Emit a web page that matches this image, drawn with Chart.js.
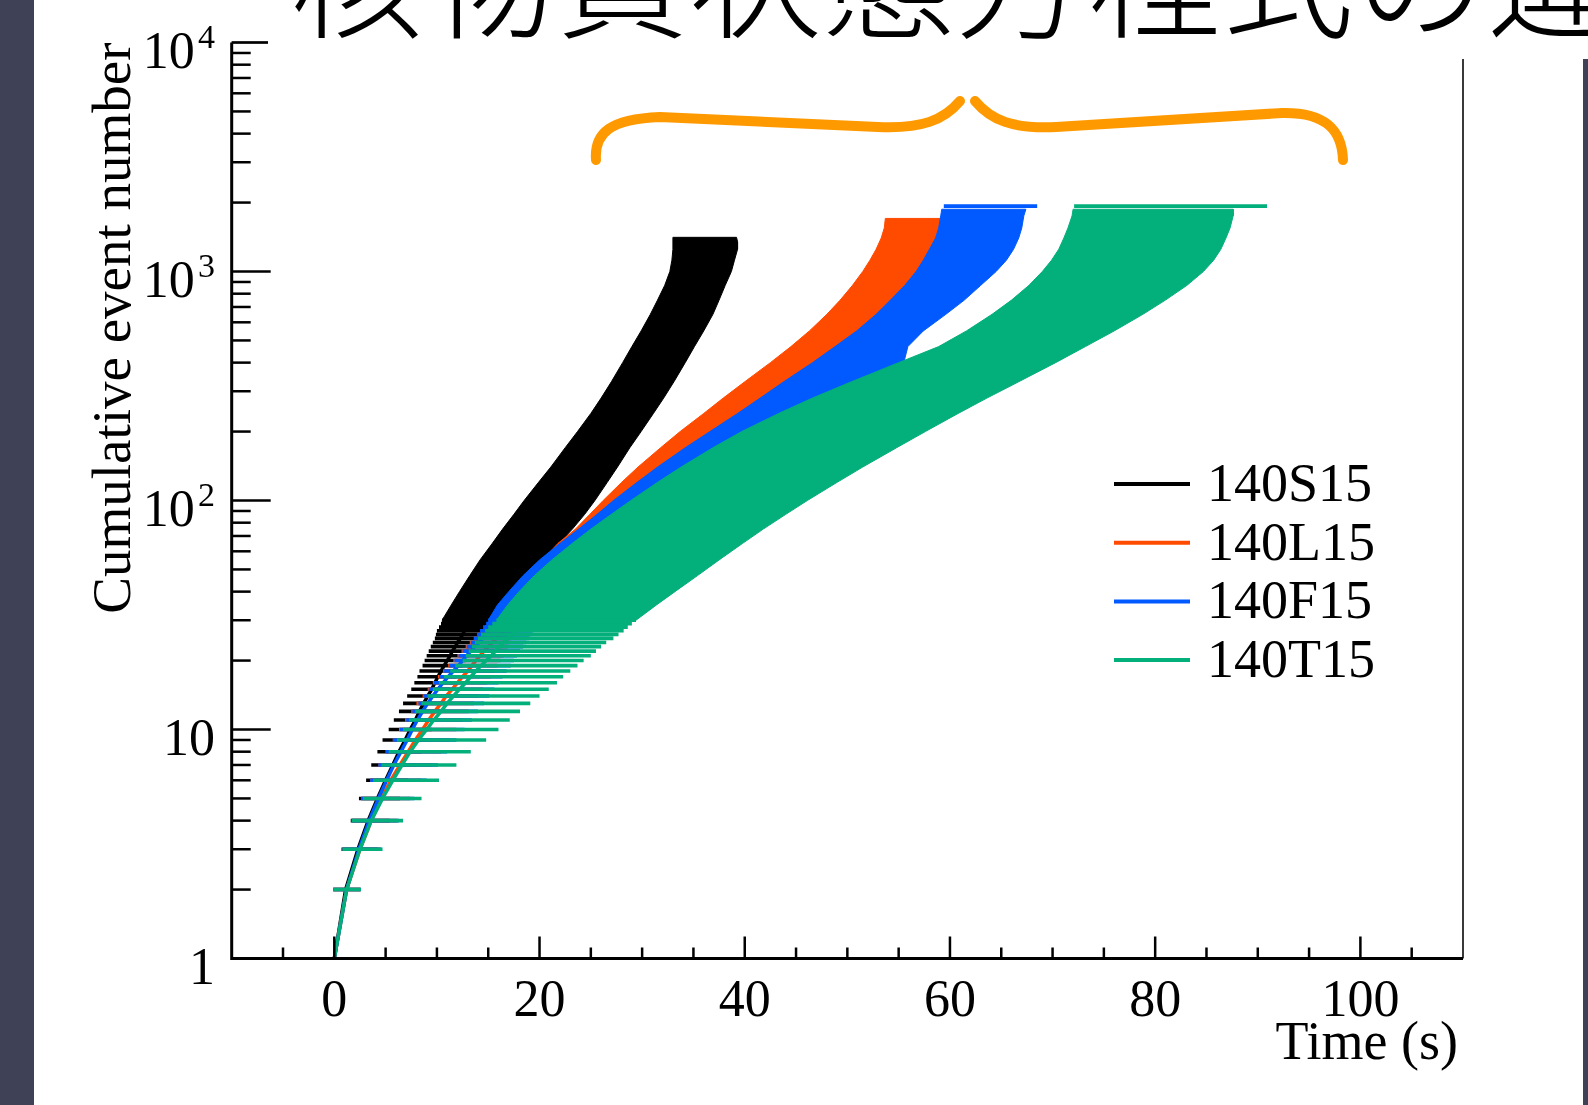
<!DOCTYPE html>
<html><head><meta charset="utf-8">
<script src="https://cdn.jsdelivr.net/npm/chart.js@4.4.1/dist/chart.umd.min.js"></script>
<style>
html,body{margin:0;padding:0;background:#fff;overflow:hidden;}
#wrap{position:relative;width:1588px;height:1105px;background:#fff;}
#c{position:absolute;left:0;top:0;}
svg{position:absolute;left:0;top:0;}
</style></head><body>
<div id="wrap">
<canvas id="c" width="1588" height="1105"></canvas>
<svg id="ov" width="1588" height="1105" xmlns="http://www.w3.org/2000/svg">
  <rect x="0" y="0" width="34" height="1105" fill="#3f4157"/>
  <rect x="1583" y="59" width="5" height="1046" fill="#3f4157"/>
  <rect x="268" y="0" width="1320" height="59" fill="#ffffff"/>
  <text x="290" y="28" font-size="133" font-weight="300" font-family="'Noto Sans CJK JP'" fill="#000">核物質状態方程式の違い</text>
  <path d="M 596 160 C 594 133, 610 119, 660 117 L 878 127 C 922 129, 944 120, 960 101" fill="none" stroke="#ff9900" stroke-width="10" stroke-linecap="round"/>
  <path d="M 975 101 C 991 120, 1012 129, 1056 127 L 1282 113 C 1328 112, 1342 132, 1343 160" fill="none" stroke="#ff9900" stroke-width="10" stroke-linecap="round"/>
  <g id="legend"></g>
</svg>
</div>
<script>
// ---------- axis ticks / labels ----------
const xLabelValues = [0, 20, 40, 60, 80, 100];
const xTickValues = [-5, 0, 5, 10, 15, 20, 25, 30, 35, 40, 45, 50, 55, 60, 65, 70, 75, 80, 85, 90, 95, 100, 105];
const yLabelValues = [1, 10, 100, 1000, 10000];
const yTickValues = [1,2,3,4,5,6,7,8,9,10,20,30,40,50,60,70,80,90,100,200,300,400,500,600,700,800,900,1000,2000,3000,4000,5000,6000,7000,8000,9000,10000];
const xTitle = 'Time (s)';
const yTitle = 'Cumulative event number';

// ---------- series ----------
const seriesNames = ['140S15', '140L15', '140F15', '140T15'];
const seriesColors = ['#000000', '#ff4b00', '#005aff', '#03af7a'];

// individual cumulative-event rows (n) with time ranges [lo, hi]
const eventN = [2,3,4,5,6,7,8,9,10,11,12,13,14,15,16,17,18,19,20,21,22,23,24,25,26,27,28,29,30];
const S15_lo = [-0.1,0.7,1.6,2.4,3.1,3.6,4.2,4.7,5.3,5.8,6.3,6.7,7.1,7.5,7.8,8.1,8.3,8.6,8.8,9.0,9.2,9.4,9.6,9.8,9.9,10.0,10.2,10.4,10.5];
const S15_hi = [2.5,4.2,5.4,6.4,7.2,7.9,8.5,9.0,9.5,9.9,10.3,10.7,11.0,11.3,11.6,11.9,12.2,12.5,12.8,13.1,13.4,13.7,14.0,14.3,14.6,14.9,15.2,15.5,15.8];
const L15_lo = [-0.1,0.8,1.7,2.6,3.5,4.3,5.0,5.7,6.3,6.9,7.5,8.0,8.6,9.1,9.6,10.1,10.6,11.1,11.6,12.0,12.4,12.8,13.2,13.6,14.0,14.3,14.7,15.0,15.3];
const L15_hi = [2.6,4.5,6.1,7.4,8.5,9.5,10.4,11.2,11.9,12.5,13.1,13.6,14.1,14.5,14.9,15.3,15.6,15.9,16.2,16.5,16.7,16.9,17.1,17.3,17.5,17.6,17.7,17.9,18.0];
const F15_lo = [-0.1,0.8,1.7,2.6,3.5,4.3,5.0,5.7,6.4,7.0,7.6,8.2,8.7,9.2,9.7,10.2,10.7,11.2,11.7,12.1,12.5,12.9,13.3,13.6,13.9,14.2,14.5,14.8,15.0];
const F15_hi = [2.6,4.6,6.3,7.8,9.0,10.1,11.0,11.9,12.7,13.4,14.0,14.6,15.1,15.6,16.0,16.4,16.8,17.2,17.5,17.8,18.1,18.4,18.7,19.0,19.2,19.4,19.6,19.8,20.0];
const T15_lo = [-0.1,0.8,1.7,2.8,3.8,4.6,5.3,6.1,6.7,7.3,7.9,8.5,9.1,9.6,10.2,10.7,11.3,11.8,12.5,12.8,13.1,13.4,13.7,14.0,14.3,14.7,15.0,15.4,15.8];
const T15_hi = [2.6,4.7,6.7,8.5,10.2,11.9,13.3,14.8,16.0,17.1,18.1,19.1,20.0,20.9,21.7,22.3,23.0,23.7,24.3,25.0,25.5,26.0,26.5,27.2,27.7,28.2,28.6,29.0,29.4];

// central curves (n = 1..30)
const centerN = [1,2,3,4,5,6,7,8,9,10,11,12,13,14,15,16,17,18,19,20,21,22,23,24,25,26,27,28,29,30];
const S15_mid = [0.0,1.1,2.3,3.3,4.2,5.0,5.7,6.3,6.9,7.4,7.9,8.3,8.7,9.1,9.5,9.8,10.1,10.4,10.7,11.0,11.3,11.5,11.8,12.0,12.3,12.5,12.7,12.9,13.1,13.3];
const L15_mid = [0.0,1.2,2.5,3.6,4.6,5.5,6.4,7.2,7.9,8.6,9.2,9.8,10.4,10.9,11.5,12.0,12.5,13.0,13.4,13.8,14.2,14.6,15.0,15.4,15.8,16.2,16.5,16.8,17.1,17.4];
const F15_mid = [0.0,1.2,2.4,3.4,4.3,5.1,5.8,6.5,7.1,7.6,8.1,8.6,9.1,9.6,10.1,10.6,11.1,11.6,12.1,12.5,12.9,13.3,13.7,14.1,14.5,14.8,15.1,15.4,15.7,16.0];
const T15_mid = [0.0,1.2,2.5,3.6,4.7,5.7,6.6,7.4,8.2,9.0,9.7,10.4,11.0,11.6,12.2,12.8,13.3,13.8,14.3,14.8,15.3,15.7,16.1,16.5,16.9,17.3,17.7,18.0,18.4,18.7];

// merged bands (dense rows) : n, earliest time, latest time
const S15_bandN  = [30,35,40,47,55,65,75,87,100,120,140,170,200,240,280,330,400,470,550,650,750,870,1000,1120,1250,1350,1410];
const S15_bandLo = [10.5,11.4,12.2,13.2,14.2,15.4,16.4,17.5,18.5,19.9,21.1,22.5,23.7,25.0,26.0,27.0,28.1,29.0,29.9,30.8,31.5,32.2,32.7,32.9,33.0,33.0,33.0];
const S15_bandHi = [15.8,16.9,17.8,19.0,20.4,21.9,23.2,24.4,25.4,26.6,27.6,28.8,29.9,31.1,32.1,33.1,34.2,35.1,36.0,36.9,37.5,38.1,38.7,39.0,39.3,39.3,39.2];
const L15_bandN  = [30,35,40,47,55,65,75,87,100,120,140,170,200,240,280,330,400,470,550,650,750,870,1000,1120,1250,1400,1550,1705];
const L15_bandLo = [15.3,16.5,17.6,19.0,20.3,21.8,23.5,24.9,26.2,28.0,29.6,31.8,33.7,36.0,37.9,40.0,42.5,44.5,46.3,48.0,49.3,50.5,51.5,52.2,52.8,53.3,53.6,53.7];
const L15_bandHi = [18.0,19.0,20.0,21.5,23.0,25.0,26.8,28.5,30.0,32.3,34.3,37.0,39.3,42.2,44.5,47.0,50.0,52.0,53.8,55.5,56.8,57.8,58.5,59.0,59.3,59.5,59.7,59.8];
const F15_bandN  = [30,35,40,47,55,65,75,87,100,120,140,170,200,240,280,330,400,470,550,650,750,870,1000,1120,1250,1400,1550,1750,1870];
const F15_bandLo = [15.0,15.9,17.0,18.4,20.0,22.0,23.8,25.6,27.2,29.5,31.5,34.2,36.6,39.3,41.5,43.8,46.6,48.8,50.9,52.8,54.2,55.6,56.7,57.4,58.0,58.6,58.9,59.1,59.2];
const F15_bandHi = [20.0,21.2,22.3,24.0,25.8,27.8,29.5,31.2,32.8,35.0,37.0,39.8,42.5,46.0,49.3,52.8,55.5,55.9,57.4,59.6,61.4,63.0,64.5,65.5,66.2,66.7,67.0,67.2,67.4];
const T15_bandN  = [30,35,40,47,55,65,75,87,100,120,140,170,200,240,280,330,400,470,550,650,750,870,1000,1120,1250,1400,1550,1750,1870];
const T15_bandLo = [15.8,16.9,18.0,19.5,21.2,23.2,25.0,27.0,28.9,31.5,33.8,36.9,39.7,43.3,46.6,50.4,55.0,58.9,61.6,64.1,66.0,67.7,69.0,69.9,70.6,71.1,71.5,71.9,72.0];
const T15_bandHi = [29.4,31.4,33.2,35.4,37.5,39.8,41.8,44.0,46.1,49.0,51.5,54.8,57.6,60.8,63.6,66.7,70.3,73.2,76.0,78.8,81.0,83.1,84.7,85.7,86.4,86.9,87.3,87.6,87.6];

// last (top) rows: [n, lo, hi]
const F15_topBar = [1930, 59.4, 68.5];
const T15_topBar = [1930, 72.1, 90.9];

// ---------- build datasets ----------
const seriesDefs = [
  {lo:S15_lo, hi:S15_hi, mid:S15_mid, bN:S15_bandN, bLo:S15_bandLo, bHi:S15_bandHi, top:null, order:40},
  {lo:L15_lo, hi:L15_hi, mid:L15_mid, bN:L15_bandN, bLo:L15_bandLo, bHi:L15_bandHi, top:null, order:30},
  {lo:F15_lo, hi:F15_hi, mid:F15_mid, bN:F15_bandN, bLo:F15_bandLo, bHi:F15_bandHi, top:F15_topBar, order:20},
  {lo:T15_lo, hi:T15_hi, mid:T15_mid, bN:T15_bandN, bLo:T15_bandLo, bHi:T15_bandHi, top:T15_topBar, order:10}
];

const datasets = [];
seriesDefs.forEach((s, k) => {
  const color = seriesColors[k];
  const rows = [];
  eventN.forEach((n, i) => { rows.push({x: s.lo[i], y: n}, {x: s.hi[i], y: n}, {x: s.hi[i], y: null}); });
  if (s.top) rows.push({x: s.top[1], y: s.top[0]}, {x: s.top[2], y: s.top[0]}, {x: s.top[2], y: null});
  const poly = s.bN.map((n, i) => ({x: s.bLo[i], y: n}))
    .concat(s.bN.map((n, i) => ({x: s.bHi[i], y: n})).reverse());
  datasets.push({
    label: seriesNames[k] + ' band', data: poly, fill: 'shape',
    backgroundColor: color, borderColor: color, borderWidth: 1,
    pointRadius: 0, tension: 0, order: s.order + 2
  });
  datasets.push({
    label: seriesNames[k] + ' rows', data: rows, fill: false, spanGaps: false,
    borderColor: color, borderWidth: 3.6, borderCapStyle: 'butt',
    pointRadius: 0, tension: 0, order: s.order + 1
  });
  datasets.push({
    label: seriesNames[k], data: centerN.map((n, i) => ({x: s.mid[i], y: n})), fill: false,
    borderColor: color, backgroundColor: color, borderWidth: 3.5,
    pointRadius: 0, tension: 0, order: s.order, clip: 4, isLegend: true
  });
});

// ---------- ROOT-style frame, inward ticks and labels ----------
const rootAxes = {
  id: 'rootAxes',
  afterDatasetsDraw(chart) {
    const {ctx, chartArea: a, scales: {x, y}} = chart;
    ctx.save();
    ctx.lineCap = 'butt';
    ctx.strokeStyle = '#3a3a3a'; ctx.lineWidth = 2;
    ctx.beginPath(); ctx.moveTo(a.left, a.top); ctx.lineTo(a.right, a.top); ctx.lineTo(a.right, a.bottom); ctx.stroke();
    ctx.strokeStyle = '#000'; ctx.lineWidth = 3;
    ctx.beginPath(); ctx.moveTo(a.left, a.top); ctx.lineTo(a.left, a.bottom); ctx.lineTo(a.right, a.bottom); ctx.stroke();
    ctx.lineWidth = 2.5;
    yTickValues.forEach(v => {
      const py = y.getPixelForValue(v);
      const len = yLabelValues.includes(v) ? 39 : 19;
      ctx.beginPath(); ctx.moveTo(a.left, py); ctx.lineTo(a.left + len, py); ctx.stroke();
    });
    xTickValues.forEach(v => {
      const px = x.getPixelForValue(v);
      const len = xLabelValues.includes(v) ? 22 : 11;
      ctx.beginPath(); ctx.moveTo(px, a.bottom); ctx.lineTo(px, a.bottom - len); ctx.stroke();
    });
    ctx.fillStyle = '#000';
    ctx.textBaseline = 'alphabetic';
    ctx.font = '52px "Liberation Serif", "Times New Roman", serif';
    ctx.textAlign = 'center';
    xLabelValues.forEach(v => ctx.fillText(String(v), x.getPixelForValue(v), a.bottom + 57.5));
    yLabelValues.forEach(v => {
      const py = y.getPixelForValue(v);
      const e = Math.round(Math.log10(v));
      if (e <= 1) {
        ctx.font = '52px "Liberation Serif", serif'; ctx.textAlign = 'right';
        ctx.fillText(String(v), a.left - 16.7, py + 25);
      } else {
        ctx.font = '52px "Liberation Serif", serif'; ctx.textAlign = 'right';
        ctx.fillText('10', a.left - 37, py + 25.5);
        ctx.font = '34px "Liberation Serif", serif'; ctx.textAlign = 'left';
        ctx.fillText(String(e), a.left - 33.7, py + 5);
      }
    });
    ctx.font = '54px "Liberation Serif", serif'; ctx.textAlign = 'right';
    ctx.fillText(xTitle, a.right - 5, a.bottom + 100.5);
    ctx.save();
    ctx.translate(129.6, a.top);
    ctx.rotate(-Math.PI / 2);
    ctx.font = '55px "Liberation Serif", serif'; ctx.textAlign = 'right';
    ctx.fillText(yTitle, 0, 0);
    ctx.restore();
    ctx.restore();
  }
};

const chart = new Chart(document.getElementById('c'), {
  type: 'line',
  data: {datasets},
  options: {
    responsive: false, animation: false, devicePixelRatio: 1, events: [],
    layout: {autoPadding: false, padding: {left: 231.7, right: 125, top: 42.5, bottom: 146.5}},
    scales: {
      x: {type: 'linear', min: -10, max: 110, display: false},
      y: {type: 'logarithmic', min: 1, max: 10000, display: false}
    },
    plugins: {legend: {display: false}, tooltip: {enabled: false}},
    elements: {line: {tension: 0}, point: {radius: 0}}
  },
  plugins: [rootAxes]
});

// ---------- legend (from the chart's datasets) ----------
const NS = 'http://www.w3.org/2000/svg';
const lg = document.getElementById('legend');
chart.data.datasets.filter(d => d.isLegend).forEach((d, i) => {
  const yy = 484 + i * 58.7;
  const ln = document.createElementNS(NS, 'line');
  ln.setAttribute('x1', 1114); ln.setAttribute('x2', 1190);
  ln.setAttribute('y1', yy); ln.setAttribute('y2', yy);
  ln.setAttribute('stroke', d.borderColor); ln.setAttribute('stroke-width', 4);
  lg.appendChild(ln);
  const tx = document.createElementNS(NS, 'text');
  tx.setAttribute('x', 1207); tx.setAttribute('y', yy + 17);
  tx.setAttribute('font-size', 54); tx.setAttribute('font-family', "'Liberation Serif', serif");
  tx.textContent = d.label;
  lg.appendChild(tx);
});
</script>
</body></html>
